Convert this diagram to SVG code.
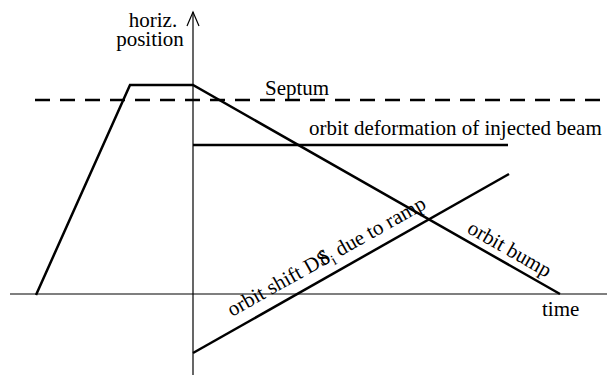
<svg xmlns="http://www.w3.org/2000/svg" width="607" height="377" viewBox="0 0 607 377">
<style>
text{font-family:"Liberation Serif","Times New Roman",serif;font-size:21px;fill:#000}
.thin{stroke:#000;stroke-width:1.2;fill:none}
.thick{stroke:#000;stroke-width:2.5;fill:none}
</style>
<rect width="607" height="377" fill="#fff"/>
<g id="axes">
<line class="thin" x1="193" y1="12" x2="193" y2="375"/>
<polyline class="thin" points="187,26 193,12 199,26"/>
<line class="thin" x1="10" y1="294" x2="607" y2="294"/>
<text x="153" y="27" text-anchor="middle">horiz.</text>
<text x="150" y="46" text-anchor="middle">position</text>
<text x="542" y="316">time</text>
</g>
<g id="septum">
<line class="thick" x1="35" y1="100" x2="600" y2="100" stroke-dasharray="15,10"/>
<text x="265" y="95">Septum</text>
</g>
<g id="connectors">
<polyline class="thick" points="36,295 130,85 193,85 560,294"/>
<line class="thick" x1="193" y1="145" x2="508" y2="145"/>
<line class="thick" x1="193" y1="353" x2="509" y2="174"/>
</g>
<g id="labels">
<text x="309" y="135">orbit deformation of injected beam</text>
<text transform="translate(466,232) rotate(29.6)">orbit bump</text>
<text transform="translate(232,317) rotate(-29.2)">orbit shift D<tspan>S</tspan><tspan dx="-10">δ</tspan><tspan dy="5" font-size="15">i</tspan><tspan dy="-5"> due to ramp</tspan></text>
</g>
</svg>
